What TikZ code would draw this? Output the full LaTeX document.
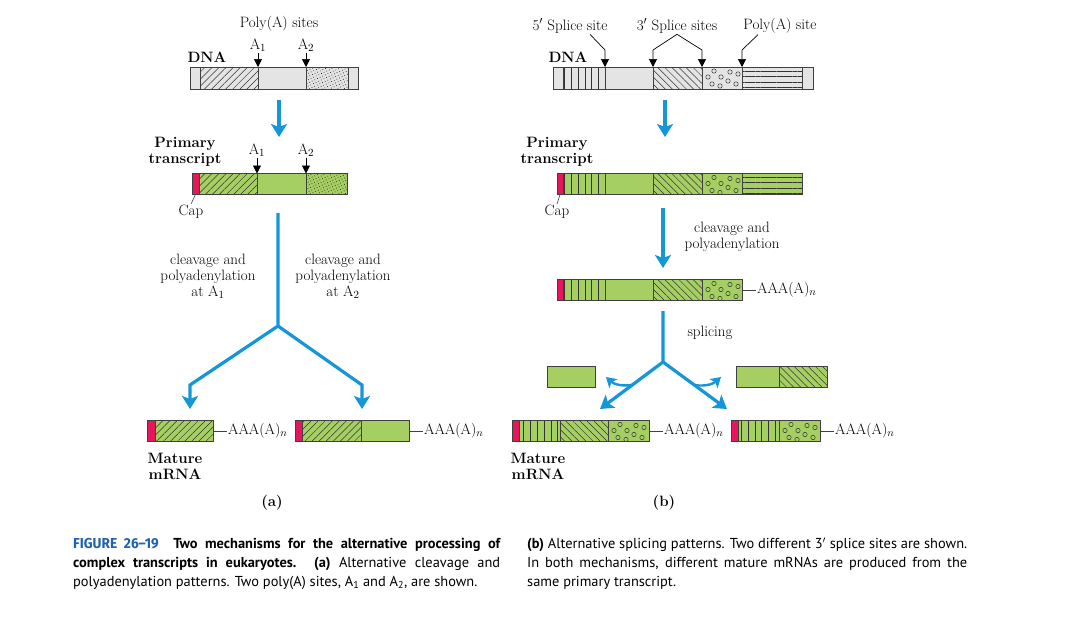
\documentclass[tikz,border=0pt]{standalone}
\usepackage{fontspec}
\newfontfamily\capfont{PT Sans}
\newfontfamily\figfont[FakeStretch=0.95]{Fira Sans}
\usetikzlibrary{arrows.meta,patterns.meta}
\definecolor{rnagreen}{HTML}{A5CF62}
\definecolor{dnagray}{HTML}{E4E4E4}
\definecolor{capred}{HTML}{E5175A}
\definecolor{flowblue}{HTML}{1496D7}
\definecolor{figblue}{HTML}{1F62AE}
\tikzset{
  seg/.style={draw=black!75, line width=0.6pt, inner sep=0pt, outer sep=0pt,
    minimum height=21pt, anchor=west},
  dnaseg/.style={seg, fill=dnagray, minimum height=22pt},
  rnaseg/.style={seg, fill=rnagreen},
  capseg/.style={seg, fill=capred},
  nelines/.style={preaction={fill=#1}, pattern color=black!80,
    pattern={Lines[angle=45,distance=5pt,line width=0.5pt]}},
  nelines/.default=rnagreen,
  nwlines/.style={preaction={fill=#1}, pattern color=black!80,
    pattern={Lines[angle=-45,distance=5pt,line width=0.5pt]}},
  nwlines/.default=rnagreen,
  vlines/.style={preaction={fill=#1}, pattern color=black!80,
    pattern={Lines[angle=90,distance=6.8pt,line width=0.5pt]}},
  vlines/.default=rnagreen,
  hlines/.style={preaction={fill=#1}, pattern color=black!80,
    pattern={Lines[angle=0,distance=5.3pt,line width=0.5pt]}},
  hlines/.default=rnagreen,
  stipple/.style={preaction={fill=#1}, pattern color=black!90,
    pattern={Dots[distance=2.9pt,radius=0.5pt,angle=25]}},
  stipple/.default=rnagreen,
  circs/.style={fill=#1, path picture={
    \foreach \cx/\cy in {6/10,12/4,10/17,19/10,18/19,26/14,28/5,34/17,36/7}
      \draw[line width=0.5pt, black!80]
        ([shift={(\cx,\cy)}]path picture bounding box.north west) circle (2.2pt);}},
  circs/.default=rnagreen,
  lab/.style={font=\fontsize{15}{16}\selectfont, align=center, inner sep=1pt},
  boldlab/.style={lab, font=\fontsize{15}{16}\selectfont\bfseries},
  site/.style={draw=black, line width=0.7pt, -{Triangle[width=8pt,length=8pt]}},
  tail/.style={draw=black!75, line width=0.6pt},
  flow/.style={draw=flowblue, line width=3.2pt,
    -{Stealth[width=16pt,length=13pt,inset=3pt]}},
  curl/.style={draw=flowblue, line width=2.4pt,
    -{Stealth[width=12pt,length=10pt,inset=2.5pt]}},
  captext/.style={font=\capfont\fontsize{14.4}{19}\selectfont, align=justify,
    inner sep=0pt, anchor=north west}
}
\begin{document}
\begin{tikzpicture}[x=1pt,y=-1pt]
  \fill[white] (0,0) rectangle (1080,633);
  \useasboundingbox (0,0) rectangle (1080,633);

  % (a) alternative cleavage
  \node[lab] (sitesA) at (279,24) {Poly(A) sites};
  \node[lab] (lA1) at (258,45) {A$_1$};
  \node[lab] (lA2) at (306,45) {A$_2$};
  \node[boldlab] (dnaAlab) at (207,57) {DNA};
  \node[dnaseg, minimum width=168pt] (dnaA) at (190,78) {};
  \node[dnaseg, nelines=dnagray, minimum width=58pt] (dnaA1) at (200,78) {};
  \node[dnaseg, stipple=dnagray, minimum width=42pt] (dnaA2) at (306,78) {};
  \draw[site] (lA1) -- (dnaA1.north east);
  \draw[site] (lA2) -- (dnaA2.north west);
  \coordinate (dA0) at (279,100);
  \coordinate (dA1) at (279,137);
  \draw[flow] (dA0) -- (dA1);

  \node[lab] (pA1) at (257,150) {A$_1$};
  \node[lab] (pA2) at (306,150) {A$_2$};
  \node[boldlab] (ptAlab) at (185,152) {Primary\\transcript};
  \node[capseg, minimum width=7pt] (capA) at (192,184) {};
  \node[rnaseg, nelines, minimum width=58pt] (ptA1) at (199,184) {};
  \node[rnaseg, minimum width=49pt] (ptA2) at (257,184) {};
  \node[rnaseg, stipple, minimum width=41pt] (ptA3) at (306,184) {};
  \draw[site] (pA1) -- (ptA1.north east);
  \draw[site] (pA2) -- (ptA3.north west);
  \node[lab] (capAlab) at (191,212) {Cap};
  \draw[tail] (capA.south) -- (capAlab.north);

  \coordinate (tA) at (278,213);
  \coordinate (jA) at (278,326);
  \coordinate (kA1) at (190,385);
  \coordinate (eA1) at (190,409);
  \coordinate (kA2) at (362,385);
  \coordinate (eA2) at (362,409);
  \draw[flow] (tA) -- (jA) -- (kA1) -- (eA1);
  \draw[flow] (jA) -- (kA2) -- (eA2);
  \node[lab] (cutA1) at (208,276) {cleavage and\\polyadenylation\\at A$_1$};
  \node[lab] (cutA2) at (343,276) {cleavage and\\polyadenylation\\at A$_2$};

  \node[capseg, minimum width=8pt] (mA1c) at (147,431) {};
  \node[rnaseg, nelines, minimum width=58pt] (mA1a) at (155,431) {};
  \node[lab, anchor=west] (aaaA1) at (227,431) {AAA(A)$_n$};
  \draw[tail] (mA1a.east) -- (aaaA1.west);
  \node[capseg, minimum width=7pt] (mA2c) at (295,431) {};
  \node[rnaseg, nelines, minimum width=59pt] (mA2a) at (302,431) {};
  \node[rnaseg, minimum width=48pt] (mA2b) at (361,431) {};
  \node[lab, anchor=west] (aaaA2) at (423,431) {AAA(A)$_n$};
  \draw[tail] (mA2b.east) -- (aaaA2.west);
  \node[boldlab] (mAlab) at (175,466) {Mature\\mRNA};
  \node[boldlab] (panA) at (272,503) {(a)};

  % (b) alternative splicing
  \node[lab] (l5) at (570,26) {5$'$ Splice site};
  \node[lab] (l3) at (677,26) {3$'$ Splice sites};
  \node[lab] (lP) at (780,26) {Poly(A) site};
  \node[boldlab] (dnaBlab) at (568,57) {DNA};
  \node[dnaseg, minimum width=260pt] (dnaB) at (553,78) {};
  \node[dnaseg, vlines=dnagray, minimum width=42pt] (dnaB1) at (563,78) {};
  \node[dnaseg, nwlines=dnagray, minimum width=49pt] (dnaB3) at (653,78) {};
  \node[dnaseg, circs=dnagray, minimum width=40pt] (dnaB4) at (702,78) {};
  \node[dnaseg, hlines=dnagray, minimum width=60pt] (dnaB5) at (742,78) {};
  \draw[site] ([xshift=20pt]l5.south) -- ([yshift=17pt]dnaB1.north east)
    -- (dnaB1.north east);
  \draw[site] (l3.south) -- ([yshift=17pt]dnaB3.north west) -- (dnaB3.north west);
  \draw[site] (l3.south) -- ([yshift=17pt]dnaB3.north east) -- (dnaB3.north east);
  \draw[site] ([xshift=-22pt]lP.south) -- ([yshift=17pt]dnaB5.north west)
    -- (dnaB5.north west);
  \coordinate (dB0) at (665,100);
  \coordinate (dB1) at (665,137);
  \draw[flow] (dB0) -- (dB1);

  \node[boldlab] (ptBlab) at (557,152) {Primary\\transcript};
  \node[capseg, minimum width=6pt] (capB) at (557,184) {};
  \node[rnaseg, vlines, minimum width=42pt] (ptB1) at (563,184) {};
  \node[rnaseg, minimum width=48pt] (ptB2) at (605,184) {};
  \node[rnaseg, nwlines, minimum width=49pt] (ptB3) at (653,184) {};
  \node[rnaseg, circs, minimum width=40pt] (ptB4) at (702,184) {};
  \node[rnaseg, hlines, minimum width=60pt] (ptB5) at (742,184) {};
  \node[lab] (capBlab) at (557,212) {Cap};
  \draw[tail] (capB.south) -- (capBlab.north);

  \coordinate (cB0) at (663,208);
  \coordinate (cB1) at (663,268);
  \draw[flow] (cB0) -- (cB1);
  \node[lab] (cutB) at (732,237) {cleavage and\\polyadenylation};

  \node[capseg, minimum width=6pt] (clB0) at (557,290) {};
  \node[rnaseg, vlines, minimum width=42pt] (clB1) at (563,290) {};
  \node[rnaseg, minimum width=48pt] (clB2) at (605,290) {};
  \node[rnaseg, nwlines, minimum width=49pt] (clB3) at (653,290) {};
  \node[rnaseg, circs, minimum width=40pt] (clB4) at (702,290) {};
  \node[lab, anchor=west] (aaaB0) at (756,290) {AAA(A)$_n$};
  \draw[tail] (clB4.east) -- (aaaB0.west);

  \coordinate (tB) at (663,311);
  \coordinate (jB) at (663,362);
  \coordinate (eB1) at (600,409);
  \coordinate (eB2) at (727,409);
  \draw[flow] (tB) -- (jB) -- (eB1);
  \draw[flow] (jB) -- (eB2);
  \node[lab] (splB) at (710,333) {splicing};
  \coordinate (sB1) at (632,385);
  \coordinate (rB1) at (606,377);
  \coordinate (sB2) at (694,385);
  \coordinate (rB2) at (721,377);
  \draw[curl] (sB1) to[bend left=25] (rB1);
  \draw[curl] (sB2) to[bend right=25] (rB2);

  \node[rnaseg, minimum width=48pt] (exB1) at (547,377) {};
  \node[rnaseg, minimum width=43pt] (exB2) at (736,377) {};
  \node[rnaseg, nwlines, minimum width=48pt] (exB3) at (779,377) {};

  \node[capseg, minimum width=7pt] (mB1c) at (512,431) {};
  \node[rnaseg, vlines, minimum width=41pt] (mB1a) at (519,431) {};
  \node[rnaseg, nwlines, minimum width=48pt] (mB1b) at (560,431) {};
  \node[rnaseg, circs, minimum width=41pt] (mB1d) at (608,431) {};
  \node[lab, anchor=west] (aaaB1) at (663,431) {AAA(A)$_n$};
  \draw[tail] (mB1d.east) -- (aaaB1.west);
  \node[capseg, minimum width=7pt] (mB2c) at (731,431) {};
  \node[rnaseg, vlines, minimum width=41pt] (mB2a) at (738,431) {};
  \node[rnaseg, circs, minimum width=41pt] (mB2d) at (779,431) {};
  \node[lab, anchor=west] (aaaB2) at (834,431) {AAA(A)$_n$};
  \draw[tail] (mB2d.east) -- (aaaB2.west);
  \node[boldlab] (mBlab) at (538,466) {Mature\\mRNA};
  \node[boldlab] (panB) at (664,503) {(b)};

  % caption
  \node[captext, text width=427pt] (capL) at (73,538) {%
    {\figfont\bfseries\color{figblue}FIGURE 26–19}\quad
    {\bfseries Two mechanisms for the alternative processing of\linebreak
    complex transcripts in eukaryotes. (a)} Alternative cleavage and\linebreak
    polyadenylation patterns. Two poly(A) sites, A\textsubscript{1} and
    A\textsubscript{2}, are shown.};
  \node[captext, text width=440pt] (capR) at (527,538) {%
    {\bfseries (b)} Alternative splicing patterns. Two different 3$'$ splice
    sites are shown.\linebreak In both mechanisms, different mature mRNAs are
    produced from the\linebreak same primary transcript.};
\end{tikzpicture}
\end{document}
